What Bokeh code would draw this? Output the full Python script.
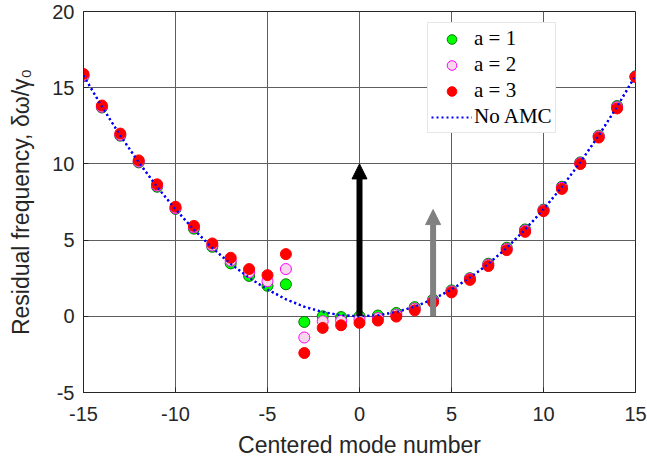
from bokeh.plotting import figure
from bokeh.models import ColumnDataSource, Arrow, NormalHead, FixedTicker, Legend, LegendItem
from bokeh.embed import file_html
from bokeh.resources import INLINE

# ---- data ----
modes = list(range(-15, 16))

no_amc = [15.8, 13.76, 11.86, 10.11, 8.49, 7.02, 5.69, 4.49, 3.44, 2.53, 1.76,
          1.12, 0.63, 0.28, 0.07, 0.0, 0.07, 0.28, 0.63, 1.12, 1.76, 2.53, 3.44,
          4.49, 5.69, 7.02, 8.49, 10.11, 11.86, 13.76, 15.8]

a1 = [15.75, 13.7, 11.85, 10.1, 8.5, 7.05, 5.75, 4.56, 3.47, 2.65, 2.0,
      2.1, -0.37, 0.0, -0.05, 0.0, 0.05, 0.22, 0.6, 1.1, 1.7, 2.5, 3.45,
      4.5, 5.7, 7.0, 8.5, 10.1, 11.85, 13.8, 15.75]

a2 = [15.8, 13.75, 11.9, 10.15, 8.58, 7.1, 5.85, 4.65, 3.65, 2.9, 2.3,
      3.1, -1.39, -0.33, -0.3, -0.2, -0.12, 0.1, 0.5, 1.0, 1.63, 2.45, 3.38,
      4.42, 5.62, 6.95, 8.43, 10.05, 11.8, 13.72, 15.72]

a3 = [15.9, 13.83, 11.99, 10.23, 8.66, 7.19, 5.93, 4.78, 3.84, 3.1, 2.7,
      4.08, -2.41, -0.76, -0.59, -0.43, -0.28, -0.02, 0.39, 0.93, 1.57, 2.39, 3.3,
      4.34, 5.54, 6.9, 8.36, 9.99, 11.73, 13.64, 15.7]

arrow_x = [0, 4]
arrow_base = [0, 0]
arrow_top = [10, 7]
arrow_colors = ["#000000", "#808080"]

x_ticks = [-15, -10, -5, 0, 5, 10, 15]
x_tick_labels = ["-15", "-10", "-5", "0", "5", "10", "15"]
y_ticks = [-5, 0, 5, 10, 15, 20]
y_tick_labels = ["-5", "0", "5", "10", "15", "20"]

series_labels = ["a = 1", "a = 2", "a = 3", "No AMC"]

# ---- figure ----
p = figure(width=647, height=463, output_backend="svg", toolbar_location=None,
           x_range=(-15, 15), y_range=(-5, 20),
           min_border_left=83, min_border_right=12, min_border_top=11, min_border_bottom=71)
p.background_fill_color = "white"
p.border_fill_color = "white"
p.outline_line_color = "#262626"
p.outline_line_width = 1

for ax, ticks, labels in ((p.xaxis[0], x_ticks, x_tick_labels), (p.yaxis[0], y_ticks, y_tick_labels)):
    ax.ticker = FixedTicker(ticks=ticks, minor_ticks=[])
    ax.major_label_overrides = {t: l for t, l in zip(ticks, labels)}
    ax.major_label_text_font = "Liberation Sans"
    ax.major_label_text_font_size = "20px"
    ax.major_label_text_color = "#262626"
    ax.axis_label_text_font = "Liberation Sans"
    ax.axis_label_text_font_size = "23px"
    ax.axis_label_text_font_style = "normal"
    ax.axis_label_text_color = "#262626"
    ax.axis_line_color = "#262626"
    ax.major_tick_line_color = "#262626"
    ax.major_tick_in = 5
    ax.major_tick_out = 0
    ax.minor_tick_line_color = None

p.xaxis.axis_label = "Centered mode number"
p.yaxis.axis_label = "Residual frequency, δω/γ₀"
p.xaxis.major_label_standoff = 14
p.xaxis.axis_label_standoff = 8
p.yaxis.major_label_standoff = 9
p.yaxis.axis_label_standoff = 15

p.grid.grid_line_color = "#5e5e5e"
p.grid.grid_line_width = 1
p.xgrid.ticker = FixedTicker(ticks=x_ticks)
p.ygrid.ticker = FixedTicker(ticks=y_ticks)

src = ColumnDataSource(dict(m=modes, no_amc=no_amc, a1=a1, a2=a2, a3=a3))

# arrows
for i in range(len(arrow_x)):
    p.add_layout(Arrow(end=NormalHead(size=15, fill_color=arrow_colors[i], line_color=arrow_colors[i], line_width=1),
                       x_start=arrow_x[i], y_start=arrow_base[i], x_end=arrow_x[i], y_end=arrow_top[i],
                       line_color=arrow_colors[i], line_width=6))

r_line = p.line("m", "no_amc", source=src, line_color="#0000ff", line_width=2.2, line_dash="2 3")
r1 = p.scatter("m", "a1", source=src, size=11, fill_color="#00ff00", line_color="#007a00", line_width=1)
r2 = p.scatter("m", "a2", source=src, size=11, fill_color="#f7d7ec", line_color="#ff00ff", line_width=1)
r3 = p.scatter("m", "a3", source=src, size=11, fill_color="#ff0000", line_color="#ff0000", line_width=1)
# dotted line drawn again on top, as in the reference
p.line("m", "no_amc", source=src, line_color="#0000ff", line_width=2.2, line_dash="2 3")

legend = Legend(items=[LegendItem(label=series_labels[0], renderers=[r1]),
                       LegendItem(label=series_labels[1], renderers=[r2]),
                       LegendItem(label=series_labels[2], renderers=[r3]),
                       LegendItem(label=series_labels[3], renderers=[r_line])],
                location=(344, 259))
legend.label_text_font = "Liberation Serif"
legend.label_text_font_size = "21px"
legend.label_text_color = "#000000"
legend.padding = 3
legend.margin = 0
legend.spacing = 1
legend.glyph_width = 41
legend.glyph_height = 24
legend.label_height = 24
legend.label_standoff = 2
legend.border_line_color = "#cfcfcf"
legend.border_line_width = 1
legend.background_fill_color = "white"
legend.background_fill_alpha = 1
p.add_layout(legend)

open("out.html", "w").write(file_html(p, INLINE))
